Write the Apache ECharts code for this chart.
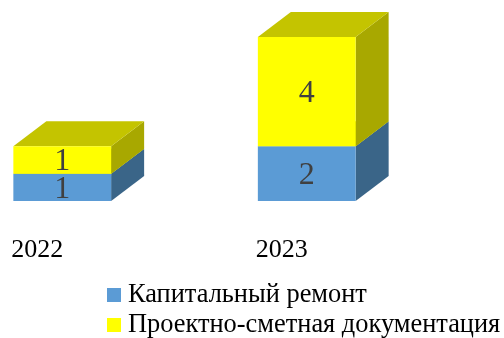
<!DOCTYPE html>
<html><head><meta charset="utf-8">
<style>html,body{margin:0;padding:0;background:#fff}#c{width:504px;height:338px}</style>
<script src="https://cdn.jsdelivr.net/npm/echarts@6/dist/echarts.min.js"></script>
</head><body><div id="c"></div>
<script>
const categories = ['2022', '2023'];
const repairName = 'Капитальный ремонт';
const docsName = 'Проектно-сметная документация';
const repairValues = [1, 2];
const docsValues = [1, 4];

const FONT = '"Liberation Serif","Times New Roman",serif';
const DX = 33, DY = 25, SHIFT = 25, RATIO = 0.4, LABEL_DY = 2;

function cuboid(front, side, top) {
  return function (params, api) {
    const cat = api.value(0), lo = api.value(1), hi = api.value(2);
    const c0 = api.coord([cat, lo]), c1 = api.coord([cat, hi]);
    const w = api.size([1, 0])[0] * RATIO;
    const x0 = c0[0] + SHIFT - w / 2, x1 = x0 + w, yb = c0[1], yt = c1[1];
    return {
      type: 'group',
      children: [
        { type: 'polygon', shape: { points: [[x1, yb], [x1 + DX, yb - DY], [x1 + DX, yt - DY], [x1, yt]] }, style: { fill: side } },
        { type: 'polygon', shape: { points: [[x0, yt], [x0 + DX, yt - DY], [x1 + DX, yt - DY], [x1, yt]] }, style: { fill: top } },
        { type: 'rect', shape: { x: x0, y: yt, width: w, height: yb - yt }, style: { fill: front } },
        { type: 'text', z2: 10, style: { text: String(hi - lo), x: (x0 + x1) / 2, y: (yt + yb) / 2 + LABEL_DY, align: 'center', verticalAlign: 'middle', fill: '#404040', font: '32px ' + FONT } }
      ]
    };
  };
}

const repairData = categories.map((c, i) => [i, 0, repairValues[i]]);
const docsData = categories.map((c, i) => [i, repairValues[i], repairValues[i] + docsValues[i]]);

const chart = echarts.init(document.getElementById('c'), null, { renderer: 'canvas' });
chart.setOption({
  animation: false,
  backgroundColor: '#fff',
  grid: { left: -85, width: 489, top: 37, height: 164, outerBoundsMode: 'none' },
  xAxis: {
    type: 'category', data: categories,
    axisLine: { show: false }, axisTick: { show: false }, splitLine: { show: false },
    axisLabel: { color: '#000', fontFamily: FONT, fontSize: 26, margin: 36 }
  },
  yAxis: { type: 'value', min: 0, max: 6, show: false },
  legend: {
    orient: 'vertical', left: 107, top: 282, height: 120, padding: 0, icon: 'rect', itemWidth: 14, itemHeight: 14, itemGap: 4,
    textStyle: { color: '#000', fontFamily: FONT, fontSize: 26.4, lineHeight: 20, padding: [5, 0, 0, 2] },
    data: [
      { name: repairName, itemStyle: { color: '#5B9BD5' } },
      { name: docsName, itemStyle: { color: '#FFFF00' } }
    ]
  },
  series: [
    { type: 'custom', name: repairName, clip: false, data: repairData, itemStyle: { color: '#5B9BD5' }, encode: { x: 0, y: 2 }, renderItem: cuboid('#5B9BD5', '#3A6588', '#C4C400') },
    { type: 'custom', name: docsName, clip: false, data: docsData, itemStyle: { color: '#FFFF00' }, encode: { x: 0, y: 2 }, renderItem: cuboid('#FFFF00', '#A8A800', '#C4C400') }
  ]
});
</script></body></html>
